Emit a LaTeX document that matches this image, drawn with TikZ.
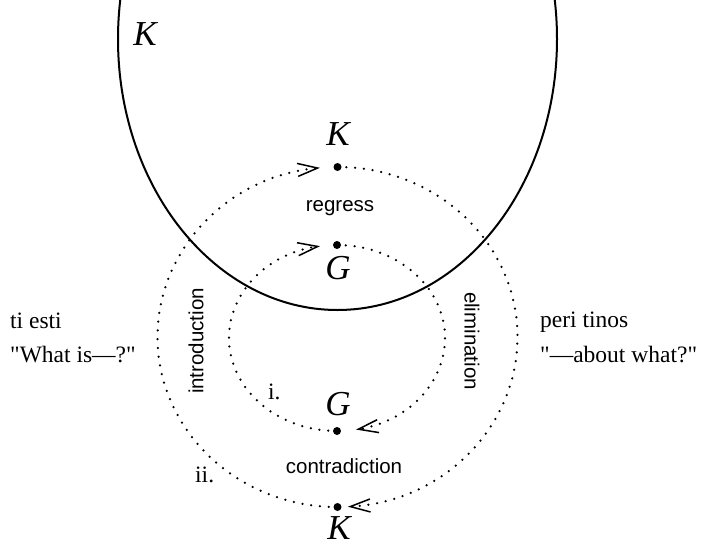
\documentclass[tikz,border=0pt]{standalone}
\usepackage{fontspec}
\newfontfamily\serifx{Liberation Serif}
\newfontfamily\sansx{Liberation Sans}
\usetikzlibrary{arrows.meta}
\begin{document}
\begin{tikzpicture}[x=1pt,y=-1pt,
  dotline/.style={line width=2.5pt, line cap=round, dash pattern=on 0pt off 8.8pt},
  tip/.style={-{Straight Barb[length=20pt,width=13pt,line width=1.5pt]}},
  dotnode/.style={circle,fill=black,inner sep=0pt,minimum size=8pt},
  lbl/.style={font=\serifx\fontsize{35}{35}\selectfont\itshape, inner sep=0pt},
  sanslbl/.style={font=\sansx\fontsize{20.5}{24}\selectfont, inner sep=0pt},
  seriflbl/.style={font=\serifx\fontsize{23.5}{28}\selectfont, inner sep=0pt, anchor=base west}]
\useasboundingbox (0,0) rectangle (702,547);
\begin{scope}
\clip (0,0) rectangle (702,547);
\draw[line width=2pt] (337.5,39) ellipse [x radius=219.5, y radius=271];
\end{scope}
% dots
\node[dotnode] (Kt) at (337.5,167) {};
\node[dotnode] (Kb) at (337.5,507) {};
\node[dotnode] (Gt) at (337,245) {};
\node[dotnode] (Gb) at (337,431) {};
% outer dotted loop
\draw[dotline,tip] (Kt.center) arc[start angle=-90, end angle=86.7, x radius=180, y radius=170];
\draw[dotline,tip] (Kb.center) arc[start angle=90, end angle=264.4, x radius=180, y radius=170];
% inner dotted loop
\draw[dotline,tip] (Gt.center) arc[start angle=-90, end angle=79.9, x radius=108, y radius=93];
\draw[dotline,tip] (Gb.center) arc[start angle=90, end angle=261, x radius=108, y radius=93];
% labels
\node[lbl] (Kcorner) at (145,34) {K};
\node[lbl] (Ktl) at (338,134) {K};
\node[lbl] (Gtl) at (338,268.5) {G};
\node[lbl] (Gbl) at (338,404) {G};
\node[lbl] (Kbl) at (339,528.5) {K};
\node[sanslbl, anchor=base] (regress) at (340,211) {regress};
\node[sanslbl, anchor=base] (contra) at (344,473) {contradiction};
\node[sanslbl, rotate=90] (intro) at (196,341) {introduction};
\node[sanslbl, rotate=-90] (elim) at (472,341) {elimination};
\node[seriflbl] (ti) at (10,328) {ti esti};
\node[seriflbl] (what) at (10,362) {"What is—?"};
\node[seriflbl] (peri) at (540,327) {peri tinos};
\node[seriflbl] (about) at (540,362) {"—about what?"};
\node[seriflbl] (i) at (268,399) {i.};
\node[seriflbl] (ii) at (195,482) {ii.};
\end{tikzpicture}
\end{document}
